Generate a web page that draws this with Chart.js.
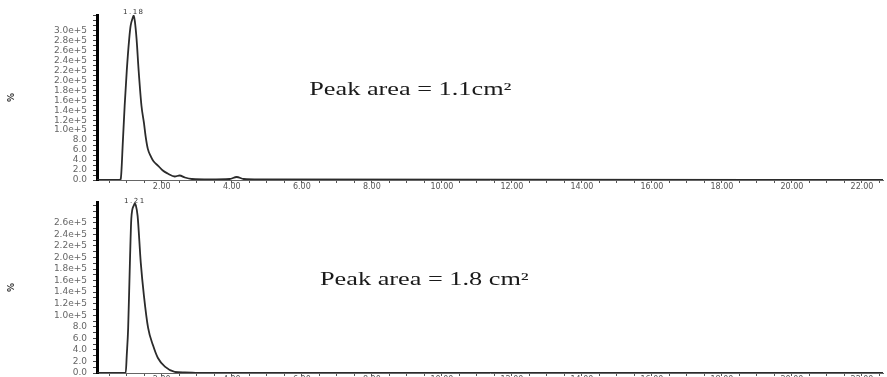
<!DOCTYPE html>
<html>
<head>
<meta charset="utf-8">
<script src="https://cdn.jsdelivr.net/npm/chart.js@4.4.1/dist/chart.umd.min.js"></script>
<style>
  html, body { margin: 0; padding: 0; background: #fff; overflow: hidden; width: 887px; height: 377px; }
  .panel { position: absolute; left: 0; width: 887px; }
  #p1 { top: 0; height: 190px; }
  #p2 { top: 190px; height: 195px; }
  canvas { filter: blur(0.4px); }
</style>
</head>
<body>
<div class="panel" id="p1"><canvas id="c1"></canvas></div>
<div class="panel" id="p2"><canvas id="c2"></canvas></div>
<script>
// Chromatogram 1: retention time (min) and detector response
const run1Time   = [0.15, 0.80, 0.83, 0.89, 0.94, 1.00, 1.07, 1.11, 1.17, 1.20, 1.23, 1.28, 1.34, 1.42, 1.49, 1.54, 1.60, 1.69, 1.77, 1.89, 2.03, 2.17, 2.37, 2.51, 2.66, 2.86, 3.37, 3.94, 4.14, 4.34, 4.80, 22.60];
const run1Signal = [0, 0, 3000, 79000, 149000, 219000, 283000, 309000, 325000, 330000, 319000, 283000, 219000, 149000, 115000, 87000, 63000, 47000, 37000, 29000, 19000, 13000, 7000, 9000, 5000, 2000, 1000, 2000, 6000, 2000, 1000, 0];

// Chromatogram 2
const run2Time   = [0.15, 0.97, 1.00, 1.04, 1.09, 1.13, 1.20, 1.23, 1.26, 1.31, 1.40, 1.49, 1.61, 1.75, 1.89, 2.09, 2.37, 2.66, 3.20, 22.60];
const run2Signal = [0, 0, 31000, 78000, 191000, 267000, 290000, 293000, 290000, 272000, 191000, 134000, 78000, 48000, 26000, 11000, 2000, 1000, 0, 0];

// Axis tick labels
const timeTickLabels = ['2.00', '4.00', '6.00', '8.00', '10.00', '12.00', '14.00', '16.00', '18.00', '20.00', '22.00'];
const run1ResponseLabels = ['0.0', '2.0', '4.0', '6.0', '8.0', '1.0e+5', '1.2e+5', '1.4e+5', '1.6e+5', '1.8e+5', '2.0e+5', '2.2e+5', '2.4e+5', '2.6e+5', '2.8e+5', '3.0e+5'];
const run2ResponseLabels = ['0.0', '2.0', '4.0', '6.0', '8.0', '1.0e+5', '1.2e+5', '1.4e+5', '1.6e+5', '1.8e+5', '2.0e+5', '2.2e+5', '2.4e+5', '2.6e+5'];

// Peak retention labels and area notes
const run1PeakLabel = '1.18';
const run2PeakLabel = '1.21';
const run1AreaText = 'Peak area = 1.1cm²';
const run2AreaText = 'Peak area = 1.8 cm²';
const run1AreaAt = { t: 9.1, v: 170000 };
const run2AreaAt = { t: 9.5, v: 152000 };

const RESPONSE_STEP = 20000;

// Draws the retention-time label over the apex and the peak-area note
const peakNotes = {
  id: 'peakNotes',
  afterDatasetsDraw(chart, args, opts) {
    const { ctx, scales: { x, y } } = chart;
    const data = chart.data.datasets[0].data;
    let top = data[0];
    data.forEach(p => { if (p.y > top.y) top = p; });
    ctx.save();
    ctx.fillStyle = '#333';
    ctx.font = '7px "DejaVu Sans"';
    ctx.letterSpacing = '1.5px';
    ctx.textAlign = 'center';
    ctx.textBaseline = 'middle';
    ctx.fillText(opts.peak, x.getPixelForValue(top.x), y.getPixelForValue(top.y) - 3);
    ctx.letterSpacing = '0px';

    ctx.translate(x.getPixelForValue(opts.at.t), y.getPixelForValue(opts.at.v));
    ctx.scale(1.46, 1);
    ctx.fillStyle = '#1a1a1a';
    ctx.font = '18px "Liberation Serif", "Times New Roman", serif';
    ctx.textBaseline = 'alphabetic';
    ctx.fillText(opts.text, 0, 0);
    ctx.restore();
  }
};

function makeChart(id, times, signals, responseLabels, yMax, topPad, xAxisHeight, peak, text, at) {
  return new Chart(document.getElementById(id), {
    type: 'line',
    data: {
      datasets: [{
        data: times.map((t, i) => ({ x: t, y: signals[i] })),
        borderColor: '#2b2b2b',
        borderWidth: 1.8,
        pointRadius: 0,
        cubicInterpolationMode: 'monotone',
        fill: false
      }]
    },
    options: {
      responsive: true,
      maintainAspectRatio: false,
      devicePixelRatio: 1,
      animation: false,
      layout: { padding: { top: topPad, right: 4, left: 0, bottom: 0 } },
      plugins: {
        legend: { display: false },
        tooltip: { enabled: false },
        peakNotes: { peak, text, at }
      },
      scales: {
        x: {
          type: 'linear',
          min: 0.15,
          max: 22.6,
          afterBuildTicks: scale => {
            const ticks = [];
            for (let k = 1; k <= 45; k++) ticks.push({ value: k * 0.5 });
            scale.ticks = ticks;
          },
          afterFit: scale => { scale.height = xAxisHeight; },
          border: { display: true, color: '#666', width: 1 },
          grid: { display: true, drawOnChartArea: false, drawTicks: true, tickLength: 3, color: '#555', lineWidth: 1 },
          ticks: {
            autoSkip: false,
            maxRotation: 0,
            padding: 0,
            color: '#555',
            font: { size: 8, family: 'DejaVu Sans', lineHeight: 1 },
            callback: v => {
              const hit = timeTickLabels.find(l => Math.abs(parseFloat(l) - v) < 1e-6);
              return hit || '';
            }
          }
        },
        y: {
          type: 'linear',
          min: 0,
          max: yMax,
          afterBuildTicks: scale => {
            const ticks = [];
            for (let v = 0; v <= yMax; v += RESPONSE_STEP / 2) ticks.push({ value: v });
            scale.ticks = ticks;
          },
          afterFit: scale => { scale.width = 97; },
          border: { display: true, color: '#000', width: 3 },
          grid: { display: true, drawOnChartArea: false, drawTicks: true, tickLength: 4, color: '#444', lineWidth: 1 },
          title: {
            display: true,
            text: '%',
            color: '#333',
            font: { size: 9, weight: 'bold', family: 'DejaVu Sans' },
            padding: { top: 6, bottom: 0 }
          },
          ticks: {
            autoSkip: false,
            padding: 6,
            color: '#666',
            font: { size: 9, family: 'DejaVu Sans', lineHeight: 0.8 },
            callback: v => (v % RESPONSE_STEP === 0 ? (responseLabels[v / RESPONSE_STEP] || '') : '')
          }
        }
      }
    },
    plugins: [peakNotes]
  });
}

makeChart('c1', run1Time, run1Signal, run1ResponseLabels, 331000, 15, 10, run1PeakLabel, run1AreaText, run1AreaAt);
makeChart('c2', run2Time, run2Signal, run2ResponseLabels, 296000, 12, 12, run2PeakLabel, run2AreaText, run2AreaAt);
</script>
</body>
</html>
